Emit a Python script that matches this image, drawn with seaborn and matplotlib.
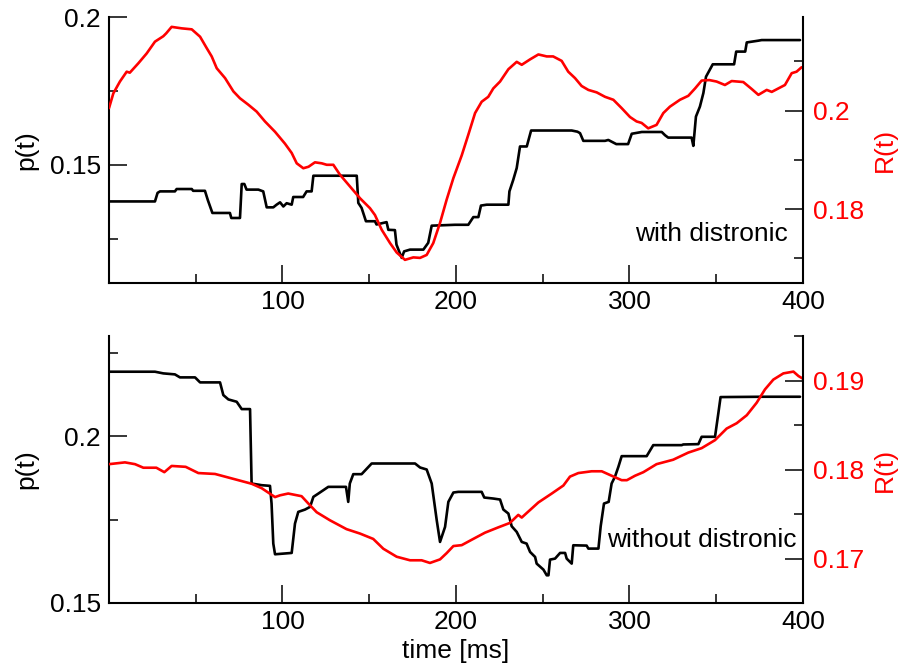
import matplotlib
matplotlib.use('Agg')
import matplotlib.pyplot as plt
import matplotlib.ticker as mticker
import seaborn as sns

# ---- data (time in ms) ----
# top panel: with distronic
t_with_p = [0, 26.5, 28.0, 29.4, 38.0, 39.0, 47.7, 48.5, 55.3, 57.0, 59.6, 69.7, 70.5, 75.5,
            76.5, 78.0, 79.3, 86.1, 88.9, 90.9, 94.7, 96.6, 98.6, 100.5, 102.4, 105.3, 106.2,
            111.9, 113.9, 116.8, 117.8, 142.8, 143.7, 145.6, 148.1, 153.3, 154.2, 160.0, 161.0,
            164.8, 165.7, 168.7, 170.1, 173.5, 181.2, 184.0, 186.0, 199.4, 207.1, 210.0, 212.9,
            214.4, 217.7, 230.2, 230.8, 233.0, 235.0, 236.9, 240.8, 243.3, 266.7, 270.0, 271.5,
            273.4, 285.9, 287.8, 292.4, 299.2, 301.3, 307.1, 318.6, 320.5, 322.3, 335.8, 336.8,
            338.3, 340.6, 342.6, 344.1, 348.0, 360.3, 361.5, 366.7, 367.6, 374.3, 376.2, 398.3]
p_with = [0.1376, 0.1376, 0.1405, 0.1410, 0.1410, 0.1418, 0.1418, 0.1412, 0.1412, 0.1380, 0.1337,
          0.1337, 0.1320, 0.1320, 0.1435, 0.1435, 0.1416, 0.1416, 0.1410, 0.1356, 0.1356, 0.1365,
          0.1373, 0.1359, 0.1370, 0.1365, 0.1391, 0.1391, 0.1410, 0.1410, 0.1463, 0.1463, 0.1371,
          0.1354, 0.1309, 0.1309, 0.1298, 0.1306, 0.1280, 0.1279, 0.1230, 0.1185, 0.1207, 0.1213,
          0.1213, 0.1236, 0.1294, 0.1297, 0.1297, 0.1323, 0.1323, 0.1362, 0.1365, 0.1365, 0.1410,
          0.1449, 0.1489, 0.1562, 0.1562, 0.1616, 0.1616, 0.1612, 0.1607, 0.1581, 0.1581, 0.1584,
          0.1570, 0.1570, 0.1605, 0.1611, 0.1611, 0.1600, 0.1592, 0.1592, 0.1564, 0.1663, 0.1697,
          0.1743, 0.1798, 0.1840, 0.1840, 0.1883, 0.1883, 0.1914, 0.1920, 0.1922, 0.1922]

t_with_r = [0, 2.5, 6.3, 10.2, 12.0, 16.9, 21.7, 26.5, 31.3, 33.0, 36.1, 41.9, 47.7, 52.5, 56.3,
            59.2, 62.1, 66.9, 71.7, 75.5, 80.3, 85.1, 89.9, 95.7, 101.4, 105.3, 108.2, 112.0,
            115.0, 118.7, 122.6, 125.5, 129.3, 133.1, 138.9, 144.7, 150.4, 153.3, 157.2, 162.0,
            165.8, 170.6, 175.4, 179.3, 183.1, 186.9, 190.8, 194.6, 198.5, 203.3, 207.1, 211.0,
            214.8, 218.6, 221.5, 225.4, 230.2, 235.0, 237.9, 242.7, 247.5, 252.3, 256.0, 260.9,
            264.7, 268.6, 272.4, 276.3, 281.1, 285.9, 290.7, 295.5, 300.3, 304.1, 307.0, 310.8,
            315.6, 319.5, 323.3, 329.1, 333.9, 337.8, 341.6, 346.0, 350.2, 355.0, 358.9, 365.6,
            370.4, 374.3, 379.1, 382.0, 385.8, 389.6, 393.5, 396.3, 399.2]
r_with = [0.2005, 0.2035, 0.2059, 0.2079, 0.2077, 0.2096, 0.2116, 0.2140, 0.2151, 0.2157, 0.2170,
          0.2167, 0.2165, 0.2150, 0.2127, 0.2110, 0.2086, 0.2066, 0.2039, 0.2025, 0.2012, 0.1998,
          0.1978, 0.1957, 0.1933, 0.1914, 0.1893, 0.1883, 0.1886, 0.1895, 0.1893, 0.1890, 0.1890,
          0.1870, 0.1846, 0.1822, 0.1802, 0.1788, 0.1758, 0.1731, 0.1712, 0.1697, 0.1702, 0.1701,
          0.1707, 0.1731, 0.1772, 0.1819, 0.1863, 0.1909, 0.1951, 0.1995, 0.2018, 0.2028, 0.2045,
          0.2059, 0.2084, 0.2099, 0.2093, 0.2104, 0.2114, 0.2110, 0.2110, 0.2101, 0.2079, 0.2066,
          0.2050, 0.2042, 0.2037, 0.2028, 0.2022, 0.2005, 0.1987, 0.1978, 0.1975, 0.1964, 0.1971,
          0.1995, 0.2008, 0.2022, 0.2030, 0.2045, 0.2061, 0.2062, 0.2059, 0.2052, 0.2060, 0.2058,
          0.2044, 0.2032, 0.2042, 0.2038, 0.2045, 0.2052, 0.2076, 0.2079, 0.2088]

# bottom panel: without distronic
t_without_p = [0, 26.5, 31.3, 38.0, 40.9, 49.6, 52.5, 64.0, 65.9, 68.8, 73.6, 76.5, 81.3, 82.2,
               88.0, 92.8, 93.7, 94.7, 95.7, 105.3, 107.2, 109.1, 113.0, 115.9, 117.8, 120.7,
               126.4, 136.6, 137.9, 138.8, 140.8, 145.6, 151.4, 176.4, 179.3, 183.1, 186.0, 188.9,
               190.8, 193.7, 195.6, 198.5, 201.3, 214.8, 216.3, 221.5, 225.4, 227.3, 230.2, 232.1,
               235.0, 237.9, 240.7, 242.7, 245.6, 246.5, 250.4, 252.3, 253.3, 254.2, 257.1, 260.0,
               262.9, 263.8, 266.7, 267.6, 275.3, 276.3, 282.1, 283.4, 285.3, 288.0, 289.7, 291.6,
               293.6, 295.5, 309.9, 313.7, 330.1, 331.0, 339.7, 341.6, 349.3, 351.2, 352.5, 377.1,
               398.3]
p_without = [0.2193, 0.2193, 0.2188, 0.2185, 0.2176, 0.2176, 0.2161, 0.2161, 0.2123, 0.2110, 0.2103,
             0.2081, 0.2081, 0.1858, 0.1853, 0.1851, 0.1798, 0.1678, 0.1646, 0.1650, 0.1738, 0.1773,
             0.1780, 0.1788, 0.1818, 0.1828, 0.1848, 0.1848, 0.1803, 0.1858, 0.1886, 0.1886, 0.1918,
             0.1918, 0.1906, 0.1900, 0.1858, 0.1748, 0.1683, 0.1728, 0.1803, 0.1831, 0.1833, 0.1833,
             0.1816, 0.1813, 0.1810, 0.1780, 0.1768, 0.1730, 0.1713, 0.1683, 0.1678, 0.1653, 0.1638,
             0.1618, 0.1600, 0.1583, 0.1583, 0.1630, 0.1633, 0.1650, 0.1650, 0.1633, 0.1618, 0.1673,
             0.1672, 0.1663, 0.1663, 0.1730, 0.1798, 0.1803, 0.1858, 0.1878, 0.1908, 0.1940, 0.1940,
             0.1973, 0.1973, 0.1975, 0.1976, 0.1998, 0.1998, 0.2068, 0.2117, 0.2118, 0.2118]

t_without_r = [0, 9.2, 15.0, 19.8, 27.3, 31.9, 36.1, 44.2, 51.5, 61.1, 70.7, 82.2, 88.0, 95.7,
               98.6, 103.3, 111.0, 114.8, 119.7, 127.3, 136.9, 144.7, 152.3, 158.1, 165.8, 173.5,
               180.2, 185.0, 190.8, 194.6, 198.5, 203.3, 209.0, 216.7, 224.4, 231.1, 235.9, 237.9,
               240.7, 247.5, 255.2, 261.9, 265.7, 270.5, 278.2, 284.0, 289.7, 295.5, 298.5, 303.2,
               308.0, 315.6, 325.2, 333.9, 341.6, 349.3, 356.0, 361.8, 367.6, 373.3, 378.1, 382.9,
               388.7, 394.5, 397.4, 400.0]
r_without = [0.1806, 0.1808, 0.1806, 0.1802, 0.1802, 0.1797, 0.1804, 0.1803, 0.1796, 0.1795, 0.1790,
             0.1784, 0.1779, 0.1769, 0.1771, 0.1773, 0.1770, 0.1762, 0.1752, 0.1743, 0.1733, 0.1728,
             0.1722, 0.1711, 0.1702, 0.1698, 0.1698, 0.1695, 0.1699, 0.1706, 0.1714, 0.1715, 0.1721,
             0.1729, 0.1735, 0.1740, 0.1749, 0.1746, 0.1751, 0.1763, 0.1773, 0.1782, 0.1792, 0.1796,
             0.1798, 0.1798, 0.1793, 0.1788, 0.1788, 0.1793, 0.1797, 0.1806, 0.1811, 0.1819, 0.1824,
             0.1833, 0.1846, 0.1852, 0.1861, 0.1875, 0.1890, 0.1901, 0.1908, 0.1910, 0.1905, 0.1902]

x_ticks = [100, 200, 300, 400]

# ---- style ----
sns.set_style('ticks')
plt.rcParams['font.family'] = ['Liberation Sans', 'DejaVu Sans']
plt.rcParams['font.size'] = 19
plt.rcParams['axes.linewidth'] = 1.5
for key in ['text.color', 'axes.labelcolor', 'axes.edgecolor', 'xtick.color', 'ytick.color']:
    plt.rcParams[key] = 'black'

fig = plt.figure(figsize=(9, 6.7), dpi=100)
ax_top = fig.add_axes([0.1211, 0.5776, 0.7711, 0.3970])
ax_bot = fig.add_axes([0.1211, 0.1000, 0.7711, 0.3985])


def style_axes(ax, ax2):
    ax.spines['top'].set_visible(False)
    ax.spines['right'].set_visible(False)
    ax2.spines['top'].set_visible(False)
    ax2.spines['left'].set_visible(False)
    ax2.spines['bottom'].set_visible(False)
    for a in (ax, ax2):
        a.tick_params(which='both', direction='in', width=1.1, labelsize=19, color='black')
        a.tick_params(which='major', length=13)
        a.tick_params(which='minor', length=6.5)
    ax.tick_params(axis='x', pad=5)
    ax.tick_params(axis='y', pad=6)
    ax2.tick_params(axis='y', pad=7.5, labelcolor='red')
    ax.set_xlim(0, 400)
    ax.set_xticks(x_ticks)
    ax.xaxis.set_minor_locator(mticker.MultipleLocator(50))
    ax.yaxis.set_major_formatter(mticker.FormatStrFormatter('%g'))
    ax2.yaxis.set_major_formatter(mticker.FormatStrFormatter('%g'))
    ax.set_xlabel('')
    ax.set_ylabel('p(t)', fontsize=19, color='black')
    ax.yaxis.set_label_coords(-0.102, 0.5)
    ax2.set_ylabel('R(t)', fontsize=19, color='red')
    ax2.yaxis.set_label_coords(1.10, 0.5)


# top panel
ax2_top = ax_top.twinx()
sns.lineplot(x=t_with_p, y=p_with, ax=ax_top, color='black', lw=1.9, estimator=None, sort=False)
sns.lineplot(x=t_with_r, y=r_with, ax=ax2_top, color='red', lw=1.9, estimator=None, sort=False)
ax_top.set_ylim(0.11, 0.2)
ax_top.set_yticks([0.15, 0.2])
ax_top.yaxis.set_minor_locator(mticker.MultipleLocator(0.025))
ax2_top.set_ylim(0.165, 0.219)
ax2_top.set_yticks([0.18, 0.2])
ax2_top.yaxis.set_minor_locator(mticker.MultipleLocator(0.01))
style_axes(ax_top, ax2_top)
ax_top.text(0.978, 0.158, 'with distronic', transform=ax_top.transAxes,
            ha='right', va='baseline', fontsize=19, color='black')

# bottom panel
ax2_bot = ax_bot.twinx()
sns.lineplot(x=t_without_p, y=p_without, ax=ax_bot, color='black', lw=1.9, estimator=None, sort=False)
sns.lineplot(x=t_without_r, y=r_without, ax=ax2_bot, color='red', lw=1.9, estimator=None, sort=False)
ax_bot.set_ylim(0.15, 0.23)
ax_bot.set_yticks([0.15, 0.2])
ax_bot.yaxis.set_minor_locator(mticker.MultipleLocator(0.025))
ax2_bot.set_ylim(0.165, 0.195)
ax2_bot.set_yticks([0.17, 0.18, 0.19])
ax2_bot.yaxis.set_minor_locator(mticker.MultipleLocator(0.005))
style_axes(ax_bot, ax2_bot)
ax_bot.text(0.991, 0.211, 'without distronic', transform=ax_bot.transAxes,
            ha='right', va='baseline', fontsize=19, color='black')
ax_bot.set_xlabel('time [ms]', fontsize=19, color='black')
ax_bot.xaxis.set_label_coords(0.5, -0.135)

fig.savefig('out.png', dpi=100)
